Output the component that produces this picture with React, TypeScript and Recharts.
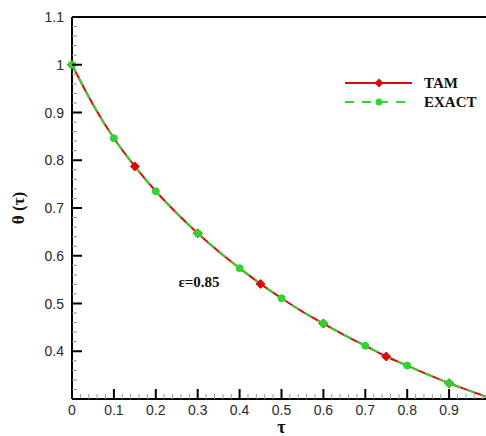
import { LineChart, Line, XAxis, YAxis, ReferenceLine } from 'recharts'

// τ grid the curves are sampled on
const tau = [0, 0.05, 0.1, 0.15, 0.2, 0.25, 0.3, 0.35, 0.4, 0.45, 0.5, 0.55, 0.6, 0.65, 0.7, 0.75, 0.8, 0.85, 0.9, 0.95, 1.0]
const tamValues = [1.0, 0.917, 0.846, 0.787, 0.735, 0.689, 0.647, 0.609, 0.574, 0.541, 0.511, 0.483, 0.458, 0.434, 0.4115, 0.389, 0.37, 0.351, 0.333, 0.317, 0.301]
const exactValues = [1.0, 0.917, 0.846, 0.787, 0.735, 0.689, 0.647, 0.609, 0.574, 0.541, 0.511, 0.483, 0.458, 0.434, 0.4115, 0.389, 0.37, 0.351, 0.333, 0.317, 0.301]

// where symbols are drawn
const tamMarkers = [0, 0.15, 0.3, 0.45, 0.6, 0.75, 0.9]
const exactMarkers = [0, 0.1, 0.2, 0.3, 0.4, 0.5, 0.6, 0.7, 0.8, 0.9]

const xLabels = [0, 0.1, 0.2, 0.3, 0.4, 0.5, 0.6, 0.7, 0.8, 0.9]
const yLabels = [0.4, 0.5, 0.6, 0.7, 0.8, 0.9, 1, 1.1]

const RED = '#dd0a0a'
const GREEN = '#2fd42f'

const data = tau.map((t, i) => ({ tau: t, tam: tamValues[i], exact: exactValues[i] }))

const steps = (from: number, to: number, step: number) => {
  const out: number[] = []
  for (let v = from; v <= to + 1e-9; v += step) out.push(Number(v.toFixed(2)))
  return out
}
const xTicks = steps(0, 1, 0.02)
const yTicks = steps(0.3, 1.1, 0.02)

const isMajor = (v: number) => Math.abs(v * 10 - Math.round(v * 10)) < 1e-6
const has = (arr: number[], v: number) => arr.some((a) => Math.abs(a - v) < 1e-6)

const tickFont = { fontFamily: 'Liberation Sans, Arial, sans-serif', fontSize: 14, fill: '#2a2a2a' }
const boldSerif = { fontFamily: 'Liberation Serif, Times New Roman, serif', fontWeight: 700, fill: '#111' }

function XTick(props: any) {
  const { x, y, payload } = props
  const v = payload.value
  const major = isMajor(v)
  return (
    <g>
      <line x1={x} x2={x} y1={y} y2={y - (major ? 10 : 5)} stroke={major ? '#000' : '#999'} strokeWidth={major ? 2 : 1} />
      {major && has(xLabels, v) && (
        <text x={x} y={y + 11} textAnchor="middle" dominantBaseline="central" {...tickFont}>
          {String(v)}
        </text>
      )}
    </g>
  )
}

function YTick(props: any) {
  const { x, y, payload } = props
  const v = payload.value
  const major = isMajor(v)
  return (
    <g>
      <line x1={x} x2={x + (major ? 10 : 5)} y1={y} y2={y} stroke={major ? '#000' : '#999'} strokeWidth={major ? 2 : 1} />
      {major && has(yLabels, v) && (
        <text x={x - 8} y={y} textAnchor="end" dominantBaseline="central" {...tickFont}>
          {String(v)}
        </text>
      )}
    </g>
  )
}

function TamDot(props: any) {
  const { cx, cy, payload, index } = props
  if (!has(tamMarkers, payload.tau)) return <g key={`t${index}`} />
  const r = 4.5
  return (
    <polygon
      key={`t${index}`}
      points={`${cx},${cy - r} ${cx + r},${cy} ${cx},${cy + r} ${cx - r},${cy}`}
      fill={RED}
      stroke={RED}
    />
  )
}

function ExactDot(props: any) {
  const { cx, cy, payload, index } = props
  if (!has(exactMarkers, payload.tau)) return <g key={`e${index}`} />
  return <circle key={`e${index}`} cx={cx} cy={cy} r={3.5} fill={GREEN} stroke={GREEN} />
}

export default function App() {
  return (
    <div style={{ position: 'fixed', left: 0, top: 0, width: 486, height: 436, overflow: 'hidden', background: '#fff' }}>
      <LineChart width={500} height={436} data={data} margin={{ top: 17, right: 9, bottom: 7, left: 0 }}>
        <XAxis
          dataKey="tau"
          type="number"
          domain={[0, 1]}
          ticks={xTicks}
          interval={0}
          tick={<XTick />}
          tickLine={false}
          tickSize={0}
          tickMargin={0}
          height={30}
          axisLine={{ stroke: '#000', strokeWidth: 2 }}
          label={{
            content: (p: any) => (
              <text x={p.viewBox.x + p.viewBox.width / 2} y={433} textAnchor="middle" fontSize={18} {...boldSerif}>
                τ
              </text>
            ),
          }}
        />
        <YAxis
          type="number"
          domain={[0.3, 1.1]}
          ticks={yTicks}
          interval={0}
          tick={<YTick />}
          tickLine={false}
          tickSize={0}
          tickMargin={0}
          width={72}
          axisLine={{ stroke: '#000', strokeWidth: 2 }}
          label={{
            content: (p: any) => {
              const cy = p.viewBox.y + p.viewBox.height / 2
              return (
                <text x={18} y={cy} transform={`rotate(-90 18 ${cy})`} textAnchor="middle" dominantBaseline="central" fontSize={17} {...boldSerif}>
                  θ (τ)
                </text>
              )
            },
          }}
        />
        <ReferenceLine y={1.1} stroke="#000" strokeWidth={2} />
        <Line type="monotone" dataKey="tam" stroke={RED} strokeWidth={2} dot={<TamDot />} activeDot={false} isAnimationActive={false} />
        <Line
          type="monotone"
          dataKey="exact"
          stroke={GREEN}
          strokeWidth={2}
          strokeDasharray="8 7"
          dot={<ExactDot />}
          activeDot={false}
          isAnimationActive={false}
        />
      </LineChart>
      <svg width={486} height={436} style={{ position: 'absolute', left: 0, top: 0, pointerEvents: 'none' }}>
        <line x1={345} x2={412} y1={83} y2={83} stroke={RED} strokeWidth={2} />
        <polygon points="379,78.5 383.5,83 379,87.5 374.5,83" fill={RED} />
        <text x={424} y={83} dominantBaseline="central" fontSize={15} {...boldSerif}>TAM</text>
        <line x1={345} x2={412} y1={102} y2={102} stroke={GREEN} strokeWidth={2} strokeDasharray="9 8" />
        <circle cx={379} cy={102} r={3.5} fill={GREEN} />
        <text x={424} y={102} dominantBaseline="central" fontSize={15} {...boldSerif}>EXACT</text>
        <text x={199} y={282} textAnchor="middle" dominantBaseline="central" fontSize={15} {...boldSerif}>ε=0.85</text>
      </svg>
    </div>
  )
}
